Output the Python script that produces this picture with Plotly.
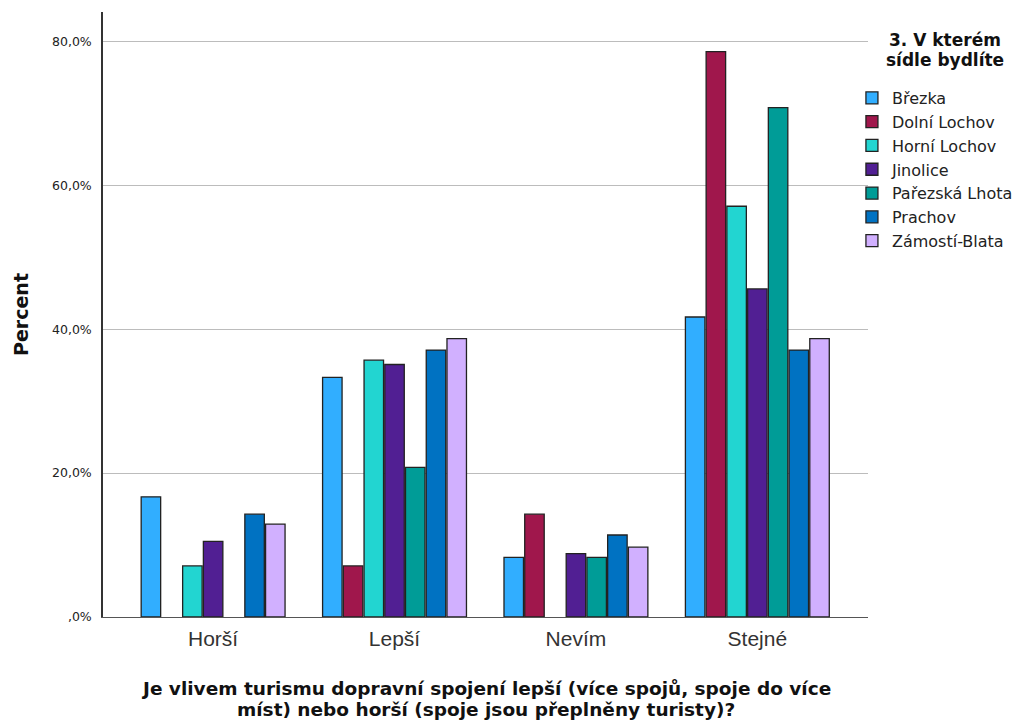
import plotly.graph_objects as go

categories = ["Horší", "Lepší", "Nevím", "Stejné"]
series_names = ["Březka", "Dolní Lochov", "Horní Lochov", "Jinolice",
                "Pařezská Lhota", "Prachov", "Zámostí-Blata"]
brezka = [16.7, 33.3, 8.3, 41.7]
dolni_lochov = [None, 7.1, 14.3, 78.6]
horni_lochov = [7.1, 35.7, None, 57.1]
jinolice = [10.5, 35.1, 8.8, 45.6]
parezska_lhota = [None, 20.8, 8.3, 70.8]
prachov = [14.3, 37.1, 11.4, 37.1]
zamosti_blata = [12.9, 38.7, 9.7, 38.7]
series_values = [brezka, dolni_lochov, horni_lochov, jinolice,
                 parezska_lhota, prachov, zamosti_blata]
colors = ["#31aeff", "#a0174c", "#22d5d1", "#511f93", "#009c97", "#0072c2", "#d1b0ff"]
y_tickvals = [0, 20, 40, 60, 80]
y_ticktext = [",0%", "20,0%", "40,0%", "60,0%", "80,0%"]
x_title_lines = ["Je vlivem turismu dopravní spojení lepší (více spojů, spoje do více",
                 "míst) nebo horší (spoje jsou přeplněny turisty)?"]
y_title = "Percent"
legend_title_lines = ["3. V kterém", "sídle bydlíte"]

fig = go.Figure()
for name, vals, col in zip(series_names, series_values, colors):
    fig.add_trace(go.Bar(
        x=categories, y=vals, name=name,
        marker=dict(color=col, line=dict(color="#222222", width=1.3)),
    ))

fig.update_layout(
    width=1019, height=722,
    margin=dict(l=103, r=151, t=12, b=105, autoexpand=False),
    paper_bgcolor="white", plot_bgcolor="white",
    barmode="group", bargap=0.2, bargroupgap=0.06,
    font=dict(family="DejaVu Sans", color="#222222"),
    legend=dict(
        x=0.979, xanchor="left", y=0.886, yanchor="top",
        font=dict(family="DejaVu Sans", size=16, color="#222222"),
        bgcolor="rgba(0,0,0,0)", itemclick=False,
    ),
    showlegend=True,
)
fig.update_xaxes(
    range=[-0.607, 3.61], showline=True, linecolor="#555555", linewidth=1,
    ticks="", showgrid=False, ticklabelstandoff=3,
    tickfont=dict(family="Liberation Sans", size=21, color="#333333"),
)
fig.update_yaxes(
    range=[0, 84.1], showline=True, linecolor="#333333", linewidth=1.5,
    tickvals=y_tickvals, ticktext=y_ticktext, ticks="",
    showgrid=True, gridcolor="#bcbcbc", gridwidth=1, zeroline=False,
    tickfont=dict(family="DejaVu Sans", size=12.5, color="#222222"),
    ticklabelstandoff=7,
    title=dict(text="<b>" + y_title + "</b>", standoff=18,
               font=dict(family="DejaVu Sans", size=19, color="#111111")),
)
for line, ypos in zip(x_title_lines, [-0.1174, -0.1529]):
    fig.add_annotation(
        text="<b>" + line + "</b>", xref="paper", yref="paper",
        x=0.5, y=ypos, xanchor="center", yanchor="middle", showarrow=False,
        font=dict(family="DejaVu Sans", size=18.5, color="#111111"),
    )
for line, ypos in zip(legend_title_lines, [0.9537, 0.9207]):
    fig.add_annotation(
        text="<b>" + line + "</b>", xref="paper", yref="paper",
        x=1.1007, y=ypos, xanchor="center", yanchor="middle", showarrow=False,
        font=dict(family="DejaVu Sans", size=17, color="#111111"),
    )

fig.write_html("out.html", config={"displayModeBar": False},
               post_script="document.body.style.margin='0';")
